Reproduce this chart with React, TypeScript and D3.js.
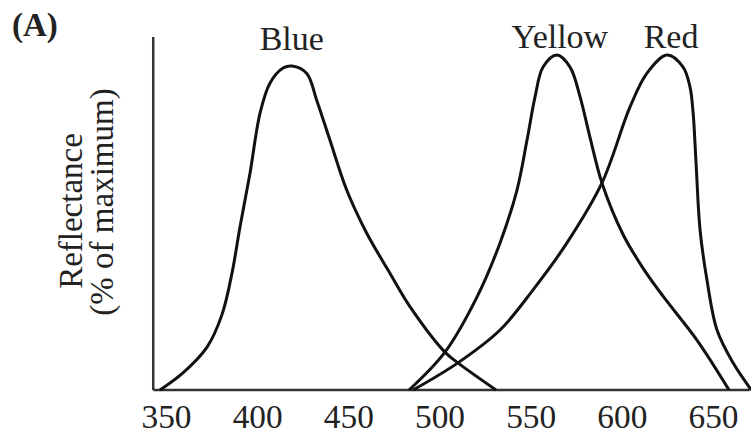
import React, { useEffect, useRef } from 'react';
import * as d3 from 'd3';

// wavelength (nm) / reflectance (% of maximum)
const blueNm = [346.7, 359.3, 372.5, 380.7, 386.2, 390.6, 396.1, 401.6, 407.0, 414.2, 419.1, 427.2, 432.6, 439.9, 449.1, 460.1, 472.9, 483.8, 503.0, 510.1, 531.0];
const blueVal = [0, 5.1, 12.8, 22.5, 34.9, 48.7, 64.8, 82.7, 91.6, 96.1, 96.7, 94.5, 86.6, 74.6, 59.7, 46.8, 34.8, 24.9, 11.3, 8.1, 0];

const yellowNm = [483.3, 503.0, 520.6, 533.2, 542.5, 548.0, 552.4, 556.8, 564.4, 571.6, 577.1, 582.5, 589.1, 600.6, 611.6, 622.6, 641.2, 658.8];
const yellowVal = [0, 11.3, 27.8, 43.9, 59.7, 74.6, 87.5, 96.4, 100, 96.4, 87.5, 75.5, 61.8, 46.5, 36.4, 28.0, 14.9, 0];

const redNm = [485.5, 510.1, 533.2, 551.3, 569.9, 589.1, 604.5, 613.8, 624.8, 633.6, 637.4, 639.1, 640.7, 642.9, 646.7, 652.2, 661.0, 671.0];
const redVal = [0, 8.1, 17.9, 29.9, 43.9, 61.8, 84.5, 94.6, 100, 96.4, 90.4, 82.7, 67.8, 47.8, 32.8, 17.9, 8.1, 0];

const seriesNames = ['Blue', 'Yellow', 'Red'];
const labelNm = [419, 566, 627];
const xTicks = [350, 400, 450, 500, 550, 600, 650];
const xExtent = [343, 670];
const yExtent = [0, 105.4];

const W = 751;
const H = 439;
const FONT = '"Liberation Serif", "Times New Roman", serif';

export default function App() {
  const svgRef = useRef<SVGSVGElement>(null);

  useEffect(() => {
    if (!svgRef.current) return;
    const svg = d3.select(svgRef.current);
    svg.selectAll('*').remove();

    const x = d3.scaleLinear().domain([350, 650]).range([166, 713]);
    const y = d3.scaleLinear().domain([0, 100]).range([390, 55]);

    svg.append('rect').attr('width', W).attr('height', H).attr('fill', '#fff');

    // axes lines
    svg.append('line')
      .attr('x1', x(xExtent[0])).attr('x2', x(xExtent[0]))
      .attr('y1', y(yExtent[0])).attr('y2', y(yExtent[1]))
      .attr('stroke', '#333').attr('stroke-width', 2.5);
    svg.append('line')
      .attr('x1', x(xExtent[0])).attr('x2', x(xExtent[1]))
      .attr('y1', y(0)).attr('y2', y(0))
      .attr('stroke', '#333').attr('stroke-width', 2.5);

    // tick labels
    const ax = svg.append('g')
      .attr('transform', `translate(0,${y(0)})`)
      .call(d3.axisBottom(x).tickValues(xTicks).tickSize(0).tickPadding(15).tickFormat(d3.format('d')));
    ax.select('.domain').remove();
    ax.selectAll('text')
      .attr('font-family', FONT)
      .attr('font-size', 33)
      .attr('fill', '#222')
      .attr('textLength', 50)
      .attr('lengthAdjust', 'spacingAndGlyphs');

    // curves
    const line = d3.line<[number, number]>()
      .x((d) => x(d[0]))
      .y((d) => y(d[1]))
      .curve(d3.curveCatmullRom.alpha(0.5));

    const series: [number, number][][] = [
      blueNm.map((n, i) => [n, blueVal[i]]),
      yellowNm.map((n, i) => [n, yellowVal[i]]),
      redNm.map((n, i) => [n, redVal[i]]),
    ];

    series.forEach((s) => {
      svg.append('path')
        .datum(s)
        .attr('fill', 'none')
        .attr('stroke', '#111')
        .attr('stroke-width', 3)
        .attr('stroke-linejoin', 'round')
        .attr('d', line);
    });

    // series labels
    seriesNames.forEach((name, i) => {
      svg.append('text')
        .attr('x', x(labelNm[i]))
        .attr('y', i === 0 ? 50 : 48)
        .attr('text-anchor', 'middle')
        .attr('font-family', FONT)
        .attr('font-size', 34)
        .attr('fill', '#222')
        .text(name);
    });

    // panel letter
    svg.append('text')
      .attr('x', 12).attr('y', 36)
      .attr('font-family', FONT)
      .attr('font-weight', 'bold')
      .attr('font-size', 33)
      .attr('fill', '#222')
      .text('(A)');

    // y label
    svg.append('text')
      .attr('transform', 'translate(82,211) rotate(-90)')
      .attr('text-anchor', 'middle')
      .attr('font-family', FONT)
      .attr('font-size', 33)
      .attr('fill', '#222')
      .text('Reflectance');
    svg.append('text')
      .attr('transform', 'translate(113,202) rotate(-90)')
      .attr('text-anchor', 'middle')
      .attr('font-family', FONT)
      .attr('font-size', 33)
      .attr('fill', '#222')
      .text('(% of maximum)');
  }, []);

  return (
    <svg
      ref={svgRef}
      width={W}
      height={H}
      style={{ position: 'absolute', left: 0, top: 0 }}
    />
  );
}
